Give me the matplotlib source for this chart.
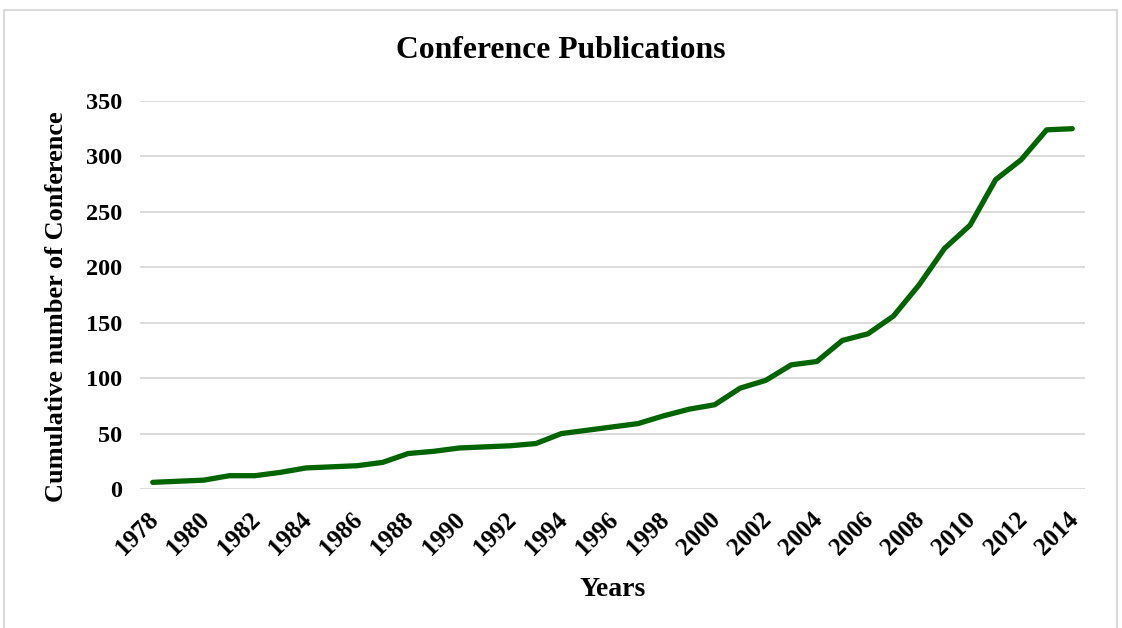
import numpy as np
import matplotlib.pyplot as plt
import matplotlib.transforms as mtransforms
from matplotlib.patches import Rectangle

years = list(range(1978, 2015))
counts = [6, 7, 8, 12, 12, 15, 19, 20, 21, 24, 32, 34, 37, 38, 39, 41, 50, 53,
          56, 59, 66, 72, 76, 91, 98, 112, 115, 134, 140, 156, 184, 217, 238,
          279, 297, 324, 325]
tick_years = list(range(1978, 2015, 2))

plt.rcParams['font.family'] = ['Liberation Serif', 'DejaVu Serif']
plt.rcParams['font.weight'] = 'bold'

fig = plt.figure(figsize=(11.22, 6.28), dpi=100)
fig.patches.append(Rectangle((4 / 1122, -0.01), 1113 / 1122, 1 - 10 / 628 + 0.01,
                             transform=fig.transFigure, fill=False,
                             edgecolor='#d9d9d9', linewidth=1.5))

ax = fig.add_axes([140 / 1122, 1 - 489 / 628, 945 / 1122, 388 / 628])
ax.plot(years, counts, color='#006400', linewidth=3.8, solid_capstyle='round')

ax.set_xlim(1977.5, 2014.5)
ax.set_ylim(0, 350)
ax.set_yticks(range(0, 351, 50))
ax.set_xticks(tick_years)
ax.set_xticklabels([])
for lab in ax.get_yticklabels():
    lab.set_fontsize(17.5)
    lab.set_fontweight('bold')

# rotated year labels, nudged the way the original is
shift = mtransforms.ScaledTranslation(-6 / 100, -19 / 100, fig.dpi_scale_trans)
for y in tick_years:
    ax.text(y, 0, str(y), transform=ax.get_xaxis_transform() + shift,
            rotation=45, ha='right', va='top', rotation_mode='anchor',
            fontsize=18, fontweight='bold')

ax.grid(axis='y', color='#d9d9d9', linewidth=1.3)
ax.set_axisbelow(True)
for s in ax.spines.values():
    s.set_visible(False)
ax.tick_params(axis='y', length=0, pad=13)
ax.tick_params(axis='x', length=0)

fig.text(0.5, 1 - 50 / 628, 'Conference Publications', fontsize=22.8,
         fontweight='bold', ha='center', va='center')
fig.text(613 / 1122, 1 - 589 / 628, 'Years', fontsize=20,
         fontweight='bold', ha='center', va='center')
fig.text(57 / 1122, 1 - 307 / 628, 'Cumulative number of Conference', fontsize=19,
         fontweight='bold', ha='center', va='center', rotation=90)

fig.savefig('out.png', dpi=100)
